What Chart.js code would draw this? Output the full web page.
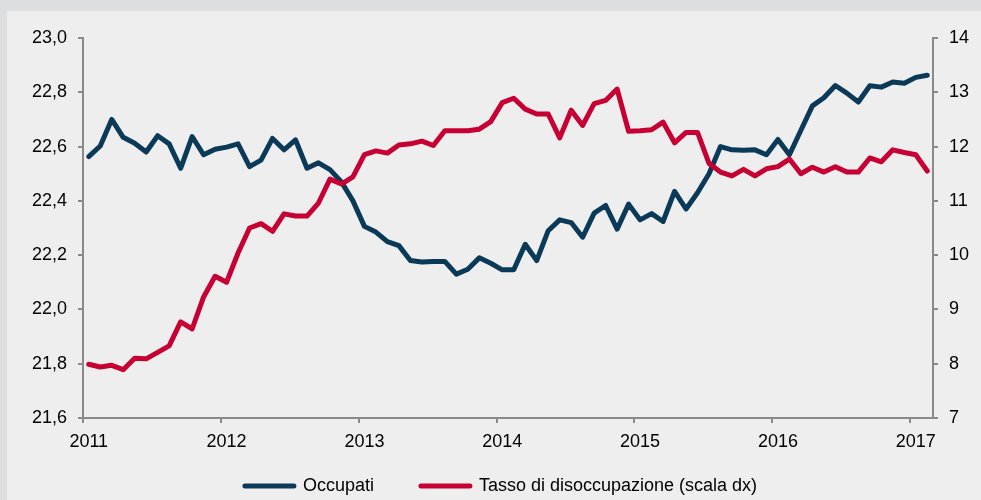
<!DOCTYPE html>
<html>
<head>
<meta charset="utf-8">
<script src="https://cdn.jsdelivr.net/npm/chart.js@4.4.1/dist/chart.umd.min.js"></script>
<style>
html,body{margin:0;padding:0;background:#dddee0;width:981px;height:500px;overflow:hidden}
#wrap{position:absolute;left:7px;top:11px;width:974px;height:489px;background:#eeeeee}
canvas{display:block}
</style>
</head>
<body>
<div id="wrap"><canvas id="c" width="974" height="489"></canvas></div>
<script>
// ---- data ----
const yearLabels = ['2011','2012','2013','2014','2015','2016','2017'];
const monthCodes = ['01','02','03','04','05','06','07','08','09','10','11','12'];
const lastMonth = '2017-02';

const categories = [];
for (const y of yearLabels) {
  for (const m of monthCodes) {
    const c = y + '-' + m;
    if (c > lastMonth) break;
    categories.push(c);
  }
}

// Occupati (milioni, scala sx)
const occupati = [
  22.563, 22.602, 22.700, 22.634, 22.612, 22.580, 22.640, 22.610, 22.520, 22.637, 22.570, 22.590,
  22.598, 22.610, 22.526, 22.550, 22.630, 22.588, 22.625, 22.520, 22.540, 22.515, 22.470, 22.400,
  22.306, 22.285, 22.250, 22.235, 22.180, 22.175, 22.177, 22.177, 22.130, 22.148, 22.190, 22.170,
  22.146, 22.146, 22.240, 22.180, 22.290, 22.330, 22.320, 22.266, 22.355, 22.383, 22.296, 22.388,
  22.330, 22.353, 22.324, 22.435, 22.370, 22.430, 22.500, 22.600, 22.588, 22.586, 22.588, 22.570,
  22.626, 22.570, 22.660, 22.750, 22.780, 22.825, 22.797, 22.764, 22.824, 22.819, 22.838, 22.833,
  22.855, 22.863
];

// Tasso di disoccupazione (%, scala dx)
const disoccupazione = [
  7.99, 7.94, 7.97, 7.89, 8.10, 8.09, 8.21, 8.33, 8.77, 8.64, 9.23, 9.61,
  9.50, 10.04, 10.50, 10.58, 10.44, 10.76, 10.72, 10.72, 10.96, 11.40, 11.31, 11.44,
  11.85, 11.92, 11.88, 12.03, 12.05, 12.10, 12.02, 12.29, 12.29, 12.29, 12.32, 12.46,
  12.81, 12.89, 12.69, 12.60, 12.60, 12.16, 12.67, 12.39, 12.79, 12.85, 13.06, 12.28,
  12.29, 12.31, 12.45, 12.07, 12.26, 12.26, 11.69, 11.53, 11.46, 11.58, 11.46, 11.59,
  11.63, 11.77, 11.50, 11.62, 11.53, 11.63, 11.53, 11.53, 11.79, 11.72, 11.94, 11.89,
  11.85, 11.55
];

const seriesNames = ['Occupati', 'Tasso di disoccupazione (scala dx)'];
const leftTicks = { min: 21.6, max: 23.0, step: 0.2 };
const rightTicks = { min: 7, max: 14, step: 1 };

// ---- style ----
const BLUE = '#0a3a58';
const RED = '#c60033';
const AXIS = '#8a8a8a';
const FONT = { family: '"Liberation Sans", Arial, sans-serif', size: 18 };
const LEGEND_LIFT = 28;

// lift the legend row closer to the axis (its spacing option doubles as vertical padding)
const legendLift = {
  id: 'legendLift',
  afterLayout(chart) {
    const l = chart.legend;
    if (l) { l.top -= LEGEND_LIFT; l.height += LEGEND_LIFT; }
  }
};

new Chart(document.getElementById('c'), {
  type: 'line',
  data: {
    labels: categories,
    datasets: [
      {
        label: seriesNames[0], data: occupati, yAxisID: 'y',
        borderColor: BLUE, backgroundColor: BLUE, borderWidth: 5,
        pointRadius: 0, tension: 0, borderCapStyle: 'round', borderJoinStyle: 'round',
        order: 1
      },
      {
        label: seriesNames[1], data: disoccupazione, yAxisID: 'y1',
        borderColor: RED, backgroundColor: RED, borderWidth: 5,
        pointRadius: 0, tension: 0, borderCapStyle: 'round', borderJoinStyle: 'round',
        order: 0
      }
    ]
  },
  plugins: [legendLift],
  options: {
    responsive: false,
    animation: false,
    layout: { padding: { top: 27, left: 14, right: 0, bottom: 0 } },
    plugins: {
      tooltip: { enabled: false },
      legend: {
        position: 'bottom',
        maxHeight: 42,
        labels: {
          usePointStyle: true,
          pointStyle: 'line',
          pointStyleWidth: 49,
          padding: 47,
          color: '#000',
          font: FONT,
          sort: (a, b) => a.datasetIndex - b.datasetIndex,
          generateLabels(chart) {
            const items = Chart.defaults.plugins.legend.labels.generateLabels(chart);
            items.forEach(it => {
              const ds = chart.data.datasets[it.datasetIndex];
              it.strokeStyle = ds.borderColor;
              it.fillStyle = ds.borderColor;
              it.lineWidth = 5;
              it.lineCap = 'round';
              it.pointStyle = 'line';
            });
            return items;
          }
        }
      }
    },
    scales: {
      x: {
        type: 'category',
        offset: true,
        grid: {
          offset: true,
          drawOnChartArea: false,
          drawTicks: true,
          tickLength: 5,
          lineWidth: 2,
          color: ctx => (ctx.index % 12 === 0 ? AXIS : 'rgba(0,0,0,0)')
        },
        border: { display: true, color: AXIS, width: 2 },
        ticks: {
          autoSkip: false, maxRotation: 0, minRotation: 0, padding: 8,
          color: '#000', font: FONT,
          callback: (v, i) => (categories[i] && categories[i].endsWith('-01')) ? categories[i].slice(0, 4) : ''
        },
        afterFit: s => { s.height = 40; }
      },
      y: {
        position: 'left',
        min: leftTicks.min, max: leftTicks.max,
        grid: { drawOnChartArea: false, drawTicks: true, tickLength: 5, lineWidth: 2, color: AXIS },
        border: { display: true, color: AXIS, width: 2 },
        ticks: {
          stepSize: leftTicks.step, padding: 11, color: '#000', font: FONT,
          callback: v => Number(v).toFixed(1).replace('.', ',')
        },
        afterFit: s => { s.width = 62; }
      },
      y1: {
        position: 'right',
        min: rightTicks.min, max: rightTicks.max,
        grid: { drawOnChartArea: false, drawTicks: true, tickLength: 5, lineWidth: 2, color: AXIS },
        border: { display: true, color: AXIS, width: 2 },
        ticks: {
          stepSize: rightTicks.step, padding: 11, color: '#000', font: FONT,
          callback: v => String(v)
        },
        afterFit: s => { s.width = 48; }
      }
    }
  }
});
</script>
</body>
</html>
